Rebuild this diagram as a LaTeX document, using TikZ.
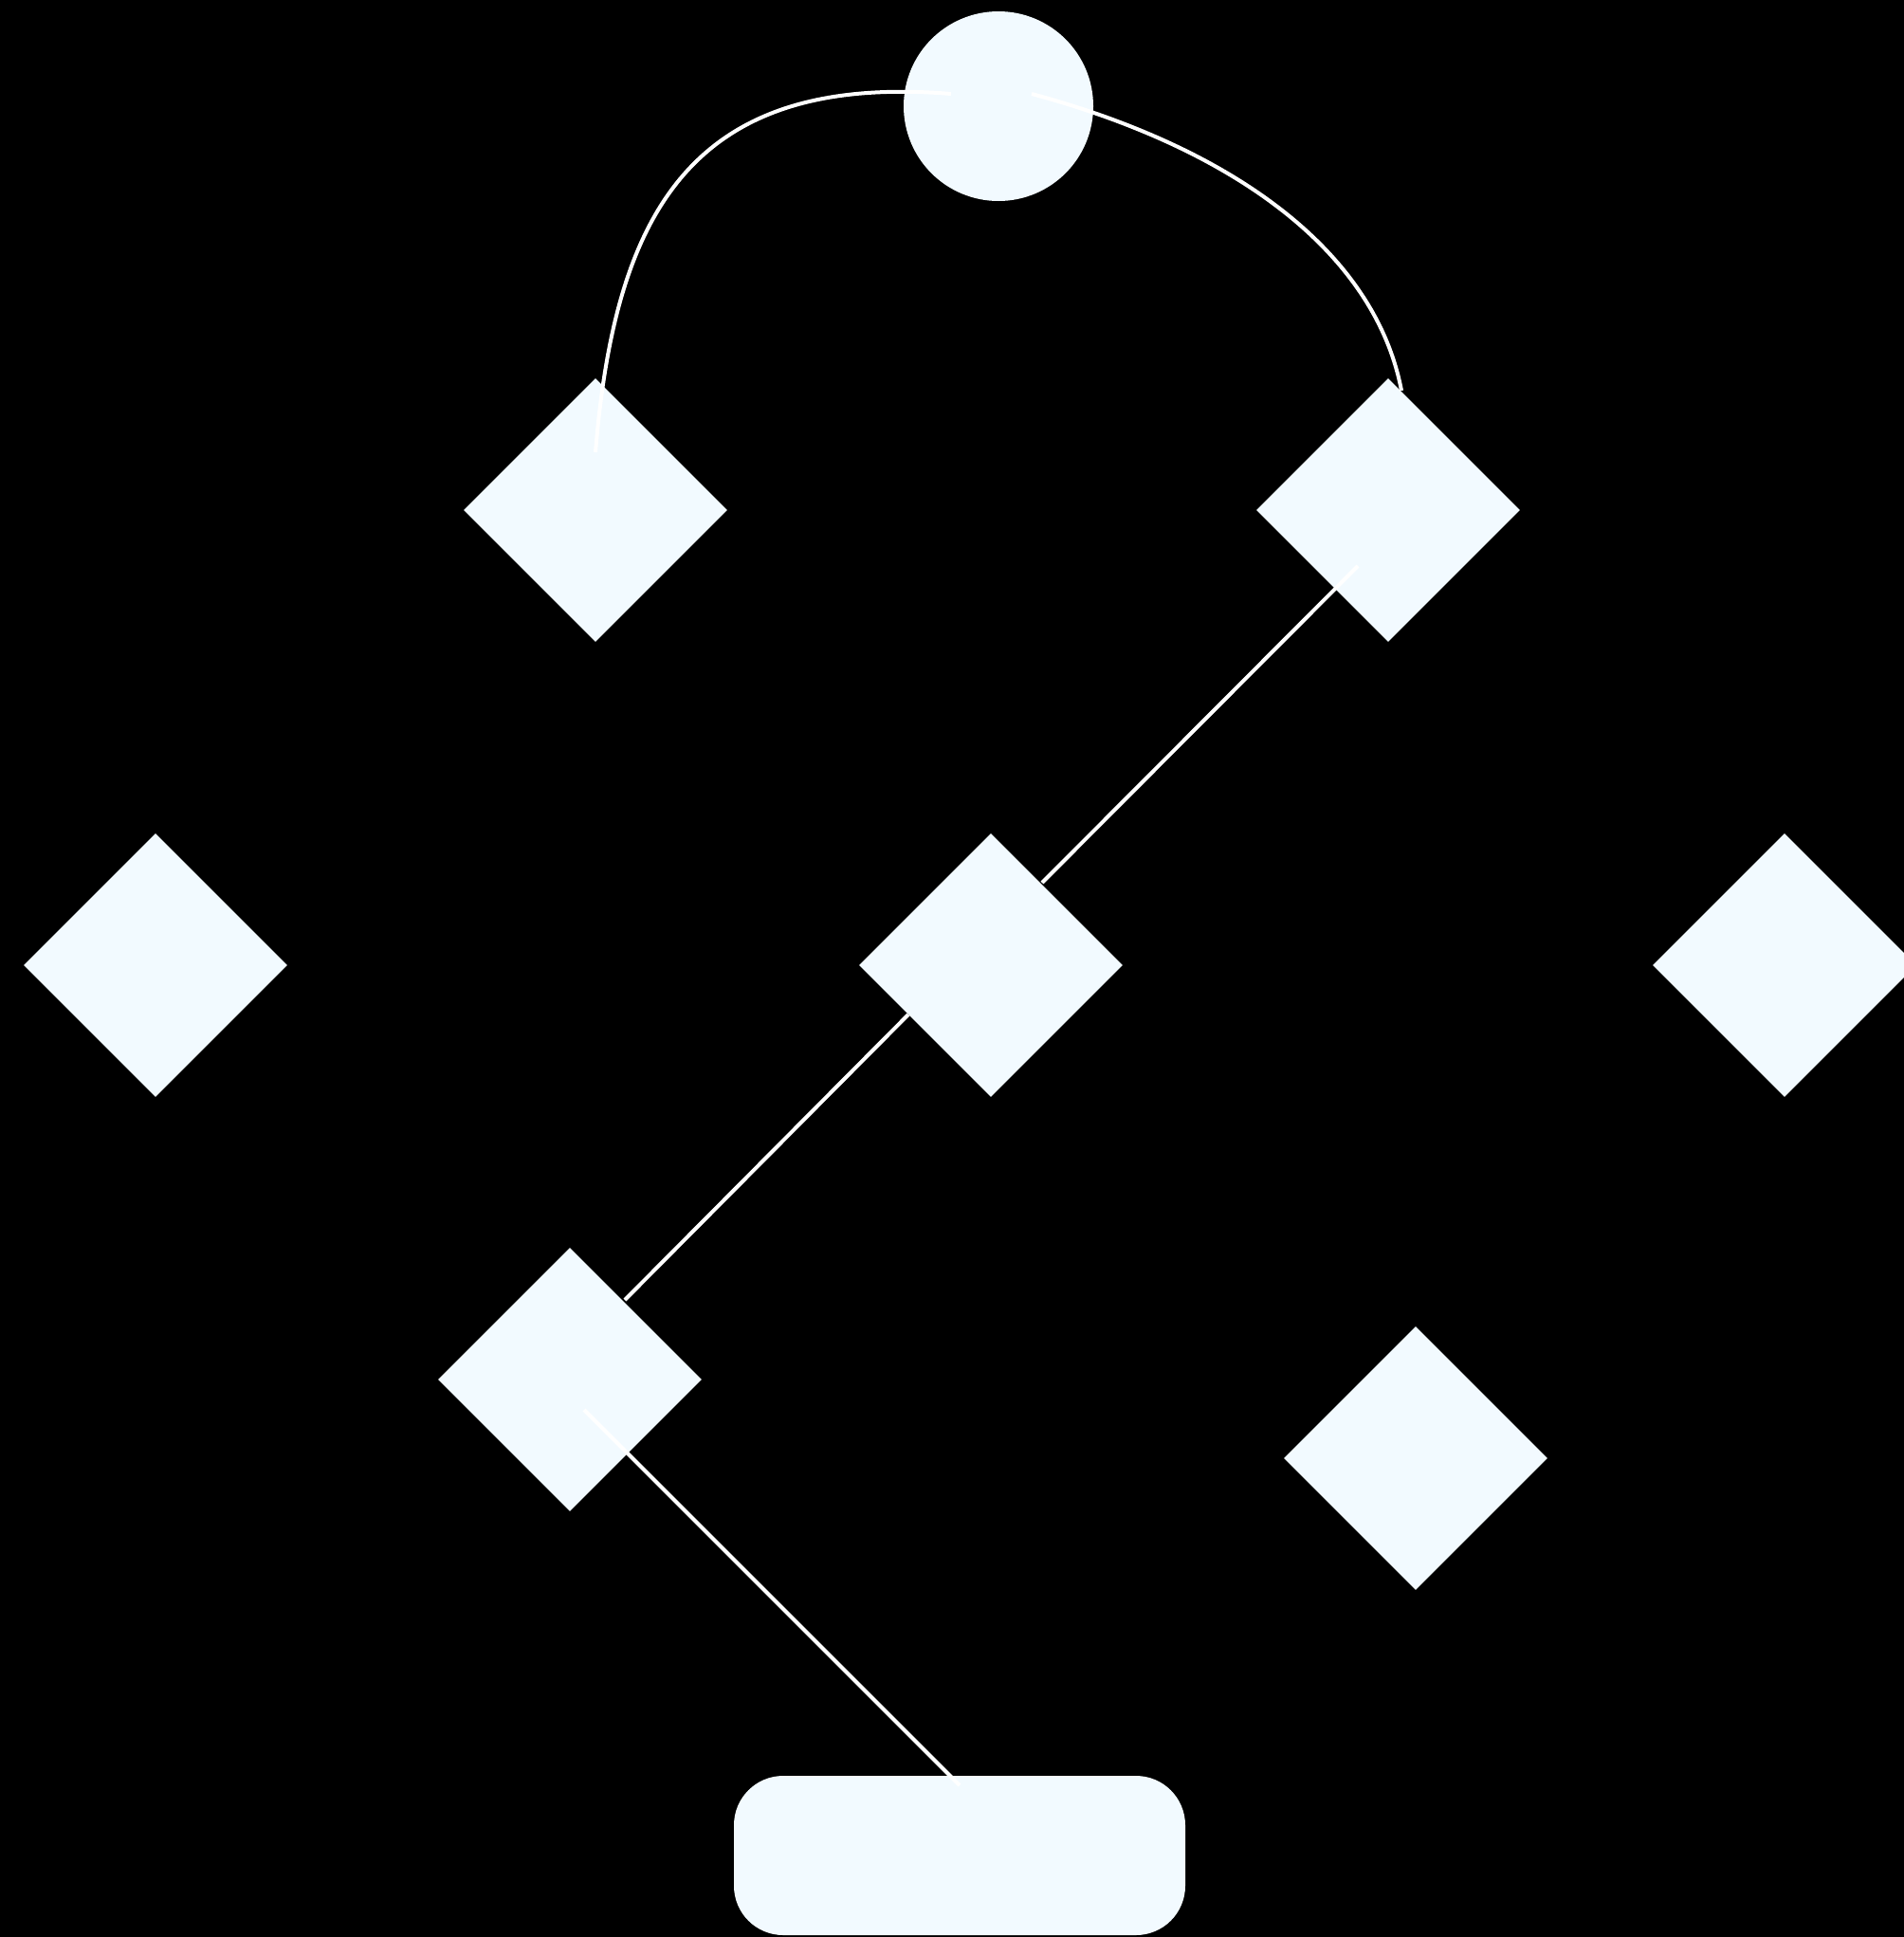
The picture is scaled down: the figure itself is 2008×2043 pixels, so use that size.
\documentclass[tikz,border=0pt]{standalone}
\usetikzlibrary{shapes.geometric}
\definecolor{nodefill}{HTML}{F2FAFF}
\begin{document}
\begin{tikzpicture}[x=1pt,y=-1pt,
  dia/.style={diamond,aspect=1,minimum width=278pt,minimum height=278pt,inner sep=0pt,fill=nodefill,draw=none},
  circ/.style={circle,minimum size=200pt,inner sep=0pt,fill=nodefill,draw=none},
  rbox/.style={rectangle,rounded corners=52pt,minimum width=476pt,minimum height=168pt,inner sep=0pt,fill=nodefill,draw=none},
  edge/.style={draw=white,line width=4pt}]
\useasboundingbox (0,0) rectangle (2008,2043);
\fill[black] (0,0) rectangle (2008,2043);
\clip (0,0) rectangle (2008,2043);
\node[circ] (c) at (1053,112) {};
\node[dia] (d1) at (628,538) {};
\node[dia] (d2) at (1464,538) {};
\node[dia] (d3) at (164,1018) {};
\node[dia] (d4) at (1045,1018) {};
\node[dia] (d5) at (1882,1018) {};
\node[dia] (d6) at (601,1455) {};
\node[dia] (d7) at (1493,1538) {};
\node[rbox] (r) at (1012,1957) {};
\draw[edge] ([shift={(-50,-13)}]c.center) .. controls (733,77) and (649,219) .. ([shift={(0,-61)}]d1.center);
\draw[edge] ([shift={(35,-13)}]c.center) .. controls (1300,156) and (1450,265) .. ([shift={(14,-126)}]d2.center);
\draw[edge] ([shift={(-32,59)}]d2.center) -- ([shift={(54,-87)}]d4.center);
\draw[edge] ([shift={(-87,52)}]d4.center) -- ([shift={(58,-84)}]d6.center);
\draw[edge] ([shift={(15,32)}]d6.center) -- ([shift={(0,-74)}]r.center);
\end{tikzpicture}
\end{document}
